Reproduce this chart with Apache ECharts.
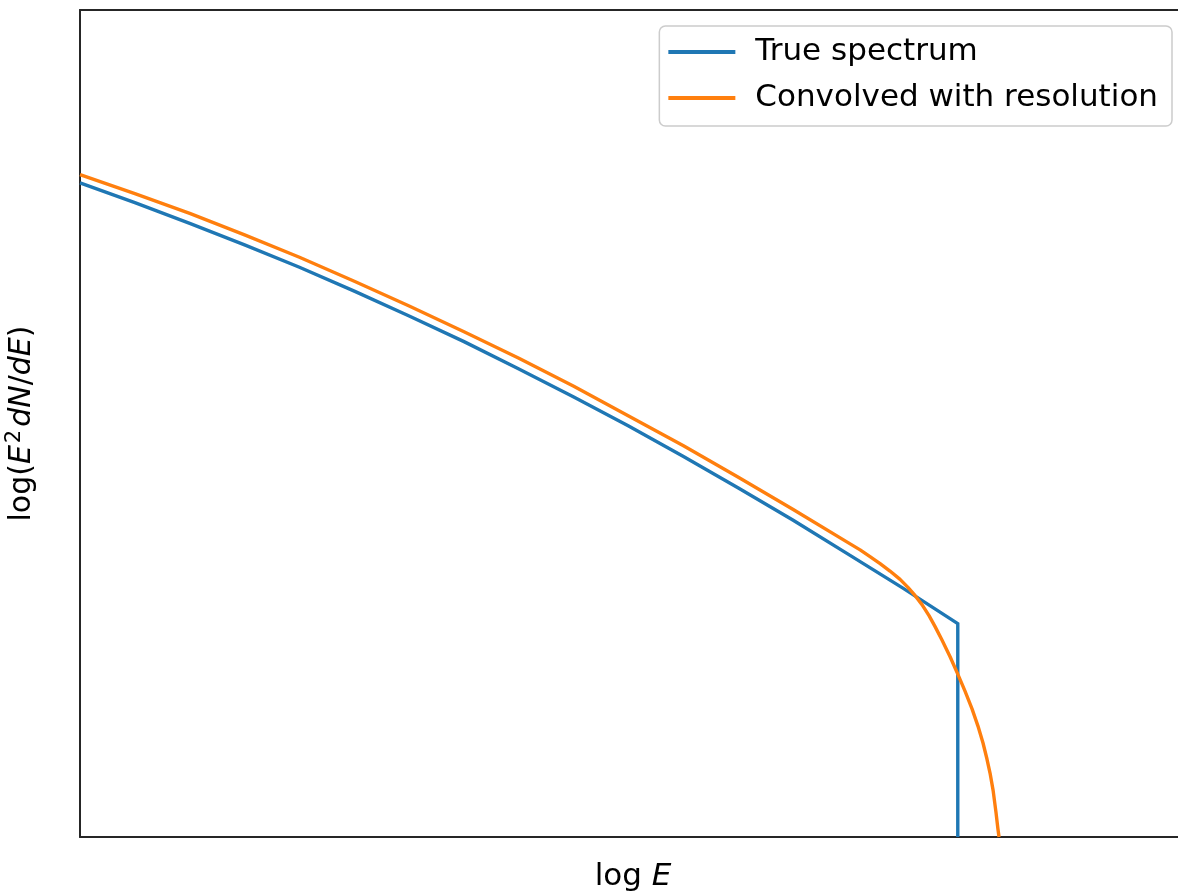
<!DOCTYPE html>
<html>
<head>
<meta charset="utf-8">
<script src="https://cdn.jsdelivr.net/npm/echarts@6/dist/echarts.min.js"></script>
<style>
  html, body { margin: 0; padding: 0; background: #ffffff; }
  #chart { width: 1178px; height: 896px; }
</style>
</head>
<body>
<div id="chart"></div>
<script>
// Series names shown in the legend
const seriesNames = ['True spectrum', 'Convolved with resolution'];

// True spectrum: curved power law with a sharp cutoff at log E = 4
const trueLogE = [0, 0.25, 0.5, 0.75, 1.0, 1.25, 1.5, 1.75, 2.0, 2.25, 2.5, 2.75, 3.0, 3.25, 3.5, 3.75, 4.0, 4.0];
const trueLogFlux = [7.91, 7.67, 7.42, 7.16, 6.89, 6.60, 6.30, 5.99, 5.66, 5.32, 4.97, 4.60, 4.22, 3.83, 3.42, 3.01, 2.58, 0];

// Same spectrum after convolution with the energy resolution (sampled densely near the cutoff)
const convLogE = [
  0, 0.25, 0.5, 0.75, 1.0, 1.25, 1.5, 1.75, 2.0, 2.25, 2.5, 2.75, 3.0, 3.25, 3.5,
  3.555, 3.600, 3.646, 3.691, 3.737, 3.773, 3.805, 3.837, 3.869, 3.896, 3.928, 3.965,
  4.001, 4.033, 4.065, 4.092, 4.115, 4.133, 4.147, 4.161, 4.174, 4.183, 4.188
];
const convLogFlux = [
  8.01, 7.78, 7.54, 7.28, 7.01, 6.72, 6.42, 6.11, 5.79, 5.45, 5.09, 4.73, 4.35, 3.96, 3.56,
  3.472, 3.391, 3.306, 3.216, 3.115, 3.018, 2.921, 2.810, 2.677, 2.547, 2.381, 2.179,
  1.964, 1.763, 1.549, 1.341, 1.137, 0.943, 0.773, 0.564, 0.301, 0.096, 0
];

// Axis ranges (no tick labels are drawn)
const xRange = [0, 5.04];
const yRange = [0, 10];

const FONT = 'DejaVu Sans';
const FONT_SIZE = 31;
const SPINE = { show: true, lineStyle: { color: '#262626', width: 2 } };
const colors = ['#1f77b4', '#ff7f0e'];

const pairs = (xs, ys) => xs.map((x, i) => [x, ys[i]]);

const chart = echarts.init(document.getElementById('chart'), null, { renderer: 'canvas' });

chart.setOption({
  animation: false,
  backgroundColor: '#ffffff',
  color: colors,
  // the frame continues past the right edge of the canvas, so no right spine shows
  grid: { left: 80, right: -8, top: 10, bottom: 59, containLabel: false, outerBoundsMode: 'none' },
  legend: {
    orient: 'vertical',
    align: 'left',
    right: 6,
    top: 26,
    padding: [8, 14, 10, 9],
    itemGap: 10,
    itemWidth: 67,
    itemHeight: 4,
    icon: 'rect',
    backgroundColor: 'rgba(255,255,255,0.8)',
    borderColor: '#cccccc',
    borderWidth: 1.5,
    borderRadius: 6,
    textStyle: {
      fontFamily: FONT,
      fontSize: FONT_SIZE,
      color: '#000000',
      lineHeight: 36,
      padding: [0, 0, 0, 15]
    },
    data: seriesNames
  },
  xAxis: [
    {
      type: 'value',
      position: 'bottom',
      min: xRange[0],
      max: xRange[1],
      axisLine: SPINE,
      axisTick: { show: false },
      axisLabel: { show: false },
      splitLine: { show: false },
      name: '{n|log }{i|E}',
      nameLocation: 'middle',
      nameGap: 24,
      nameTextStyle: {
        fontFamily: FONT,
        fontSize: FONT_SIZE,
        color: '#000000',
        rich: {
          n: { fontFamily: FONT, fontSize: FONT_SIZE, color: '#000000' },
          i: { fontFamily: FONT, fontSize: FONT_SIZE, fontStyle: 'italic', color: '#000000' }
        }
      }
    },
    {
      type: 'value',
      position: 'top',
      min: xRange[0],
      max: xRange[1],
      axisLine: SPINE,
      axisTick: { show: false },
      axisLabel: { show: false },
      splitLine: { show: false }
    }
  ],
  yAxis: {
    type: 'value',
    min: yRange[0],
    max: yRange[1],
    axisLine: SPINE,
    axisTick: { show: false },
    axisLabel: { show: false },
    splitLine: { show: false },
    name: '{n|log(}{i|E}{s|2}{i|dN}{n|/}{i|dE}{n|)}',
    nameLocation: 'middle',
    nameRotate: 90,
    nameGap: 40,
    nameTextStyle: {
      fontFamily: FONT,
      fontSize: 30,
      color: '#000000',
      rich: {
        n: { fontFamily: FONT, fontSize: 30, color: '#000000', lineHeight: 36 },
        i: { fontFamily: FONT, fontSize: 30, fontStyle: 'italic', color: '#000000', lineHeight: 36 },
        s: { fontFamily: FONT, fontSize: 21, color: '#000000', lineHeight: 24, verticalAlign: 'top', padding: [0, 3, 0, 2] }
      }
    }
  },
  series: [
    {
      name: seriesNames[0],
      type: 'line',
      data: pairs(trueLogE, trueLogFlux),
      showSymbol: false,
      symbol: 'none',
      lineStyle: { width: 3.4, color: colors[0], join: 'miter' },
      z: 2
    },
    {
      name: seriesNames[1],
      type: 'line',
      data: pairs(convLogE, convLogFlux),
      showSymbol: false,
      symbol: 'none',
      lineStyle: { width: 3.4, color: colors[1], join: 'round' },
      z: 3
    }
  ]
});
</script>
</body>
</html>
